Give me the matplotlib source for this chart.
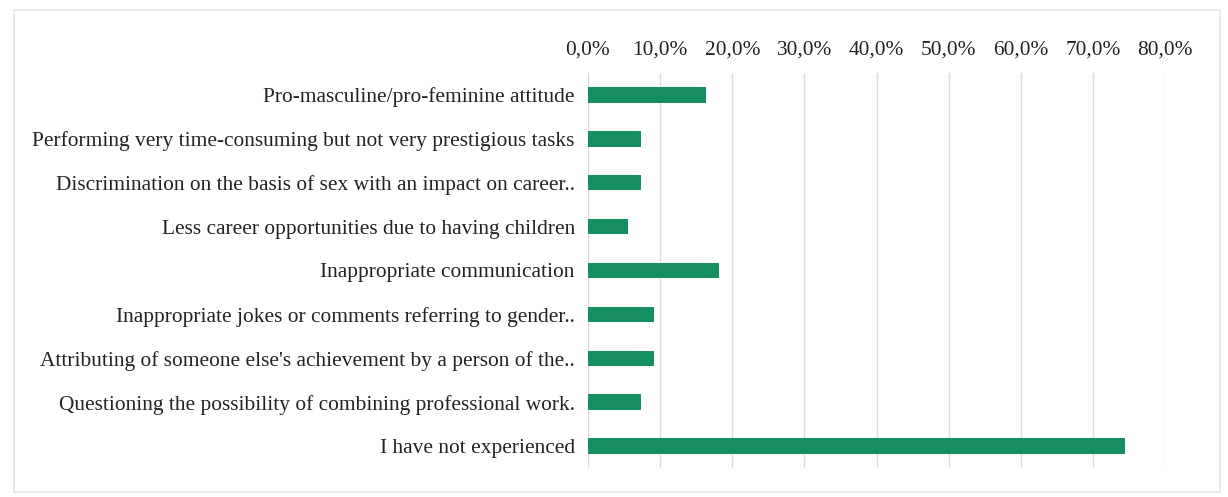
import matplotlib.pyplot as plt
from matplotlib.patches import Rectangle
from matplotlib.ticker import FuncFormatter

CATEGORIES = [
    "Pro-masculine/pro-feminine attitude",
    "Performing very time-consuming but not very prestigious tasks",
    "Discrimination on the basis of sex with an impact on career..",
    "Less career opportunities due to having children",
    "Inappropriate communication",
    "Inappropriate jokes or comments referring to gender..",
    "Attributing of someone else's achievement by a person of the..",
    "Questioning the possibility of combining professional work.",
    "I have not experienced",
]
VALUES = [0.164, 0.073, 0.073, 0.055, 0.182, 0.091, 0.091, 0.073, 0.745]
TICKS = [0.0, 0.1, 0.2, 0.3, 0.4, 0.5, 0.6, 0.7, 0.8]

plt.rcParams["font.family"] = ["Liberation Serif", "DejaVu Serif"]

fig = plt.figure(figsize=(12.28, 4.97), dpi=100)
ax = fig.add_axes([588 / 1228, 1 - 468 / 497, (1165 - 588) / 1228, (468 - 73) / 497])

y = list(range(len(CATEGORIES)))
ax.barh(y, VALUES, height=0.35, color="#178e60", zorder=3)

ax.set_xlim(0, 0.8)
ax.set_ylim(len(CATEGORIES) - 0.5, -0.5)
ax.set_yticks(y)
ax.set_yticklabels(CATEGORIES, fontsize=15.4, color="#222222")
ax.set_xticks(TICKS)
ax.xaxis.set_major_formatter(FuncFormatter(lambda v, _: f"{v * 100:.1f}%".replace(".", ",")))
ax.xaxis.tick_top()
ax.tick_params(axis="x", labelsize=15.4, colors="#222222", length=0, pad=10)
ax.tick_params(axis="y", length=0, pad=9.5)
ax.grid(axis="x", color="#dcdcdc", linewidth=1, zorder=0)
for s in ax.spines.values():
    s.set_visible(False)

# faint outer frame
fig.patches.append(Rectangle((14 / 1228, 5 / 497), 1206 / 1228, 482 / 497,
                             transform=fig.transFigure, fill=False,
                             edgecolor="#e6e6e6", linewidth=1.2))

plt.savefig("out.png", dpi=100)
